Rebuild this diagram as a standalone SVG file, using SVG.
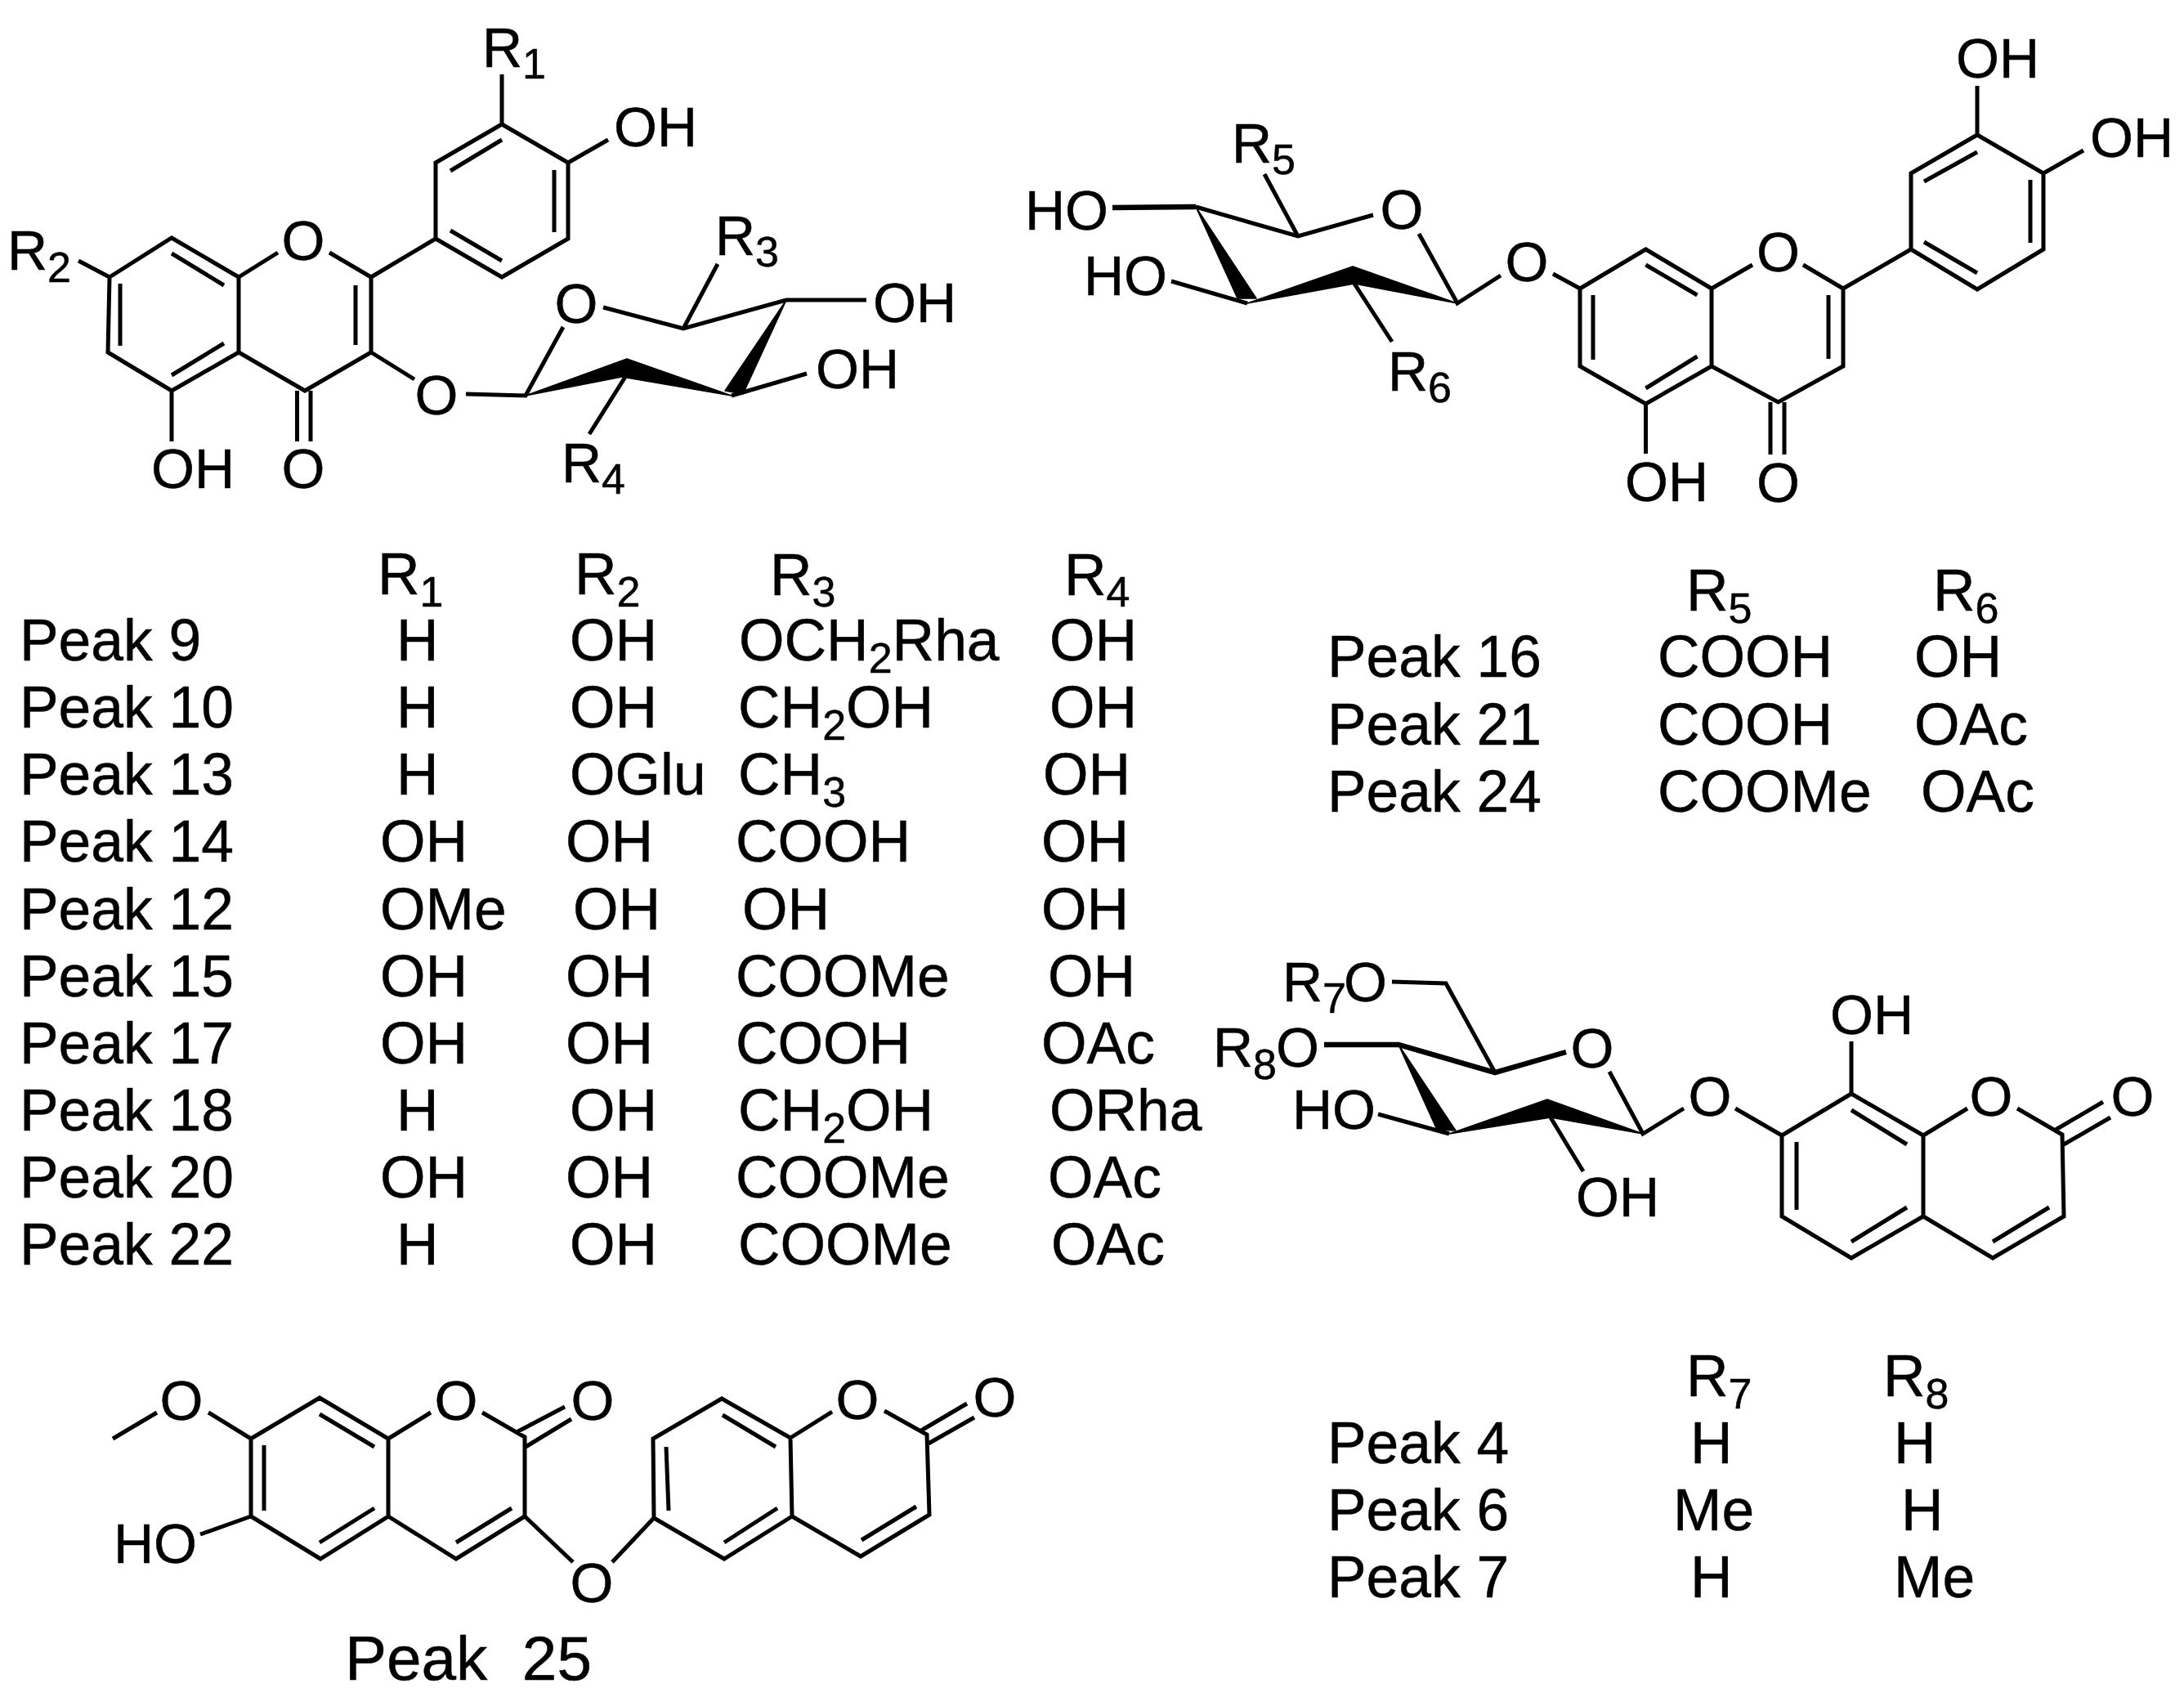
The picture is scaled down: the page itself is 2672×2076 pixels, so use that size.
<svg xmlns="http://www.w3.org/2000/svg" width="2672" height="2076" viewBox="0 0 2672 2076">
<style>
text{font-family:"Liberation Sans",Arial,sans-serif;fill:#000;stroke:#000;stroke-width:.5;font-size:71.400px}
.l{font-size:68px}
.m{text-anchor:middle}
.s{font-size:52px}
.p{font-size:76.500px}
.b{fill:none;stroke:#000;stroke-width:5;stroke-linejoin:miter;stroke-linecap:butt}
.h{fill:none;stroke:#000;stroke-width:6.500}
.w{fill:#000;stroke:#000;stroke-width:1.5;stroke-linejoin:round}
</style>
<rect width="2672" height="2076" fill="#fff"/>
<g id="connectors">
<g id="bonds-flavonol">
<path class="b" d="M134 339L210 291L292 339L292 431L210 478L132 431L134 339M147 347V423M210 310L274 349M274 420L210 459M292 339L340 309M403 309L454 339L454 431L373 478L292 431M435 349V422M363.500 478V540M380 478V540M210 478V540M134 339L96 319M454 339L533 292L533 199L614 152L695 199L695 292L614 339L533 292M551 282L614 319M551 209L614 171M678 208V284M614 152V91M695 199L744 171M454 431L507 464"/>
<path class="b" d="M570 482L643 484L689 400M738 376L836 402L962 367H1060M836 402L878 323M765 461L721 531M895 484L987 457"/>
<path class="w" d="M962 367L909 482L887 478Z"/>
<path class="w" d="M643 484L767 439L895 484L761 461Z"/>
</g>
<g id="bonds-flavone">
<path class="b" d="M1933 353L2013.500 305L2094 353V448L2013.500 494L1933 448V353M1949 361V440M2013.500 324L2076.500 361M2076.500 436L2013.500 475M2094 353L2144 324M2206 324L2255 353V448L2175.500 492L2094 448M2237 361V439M2255 353L2338 305V212L2419 165L2500 212V305L2419 354L2338 305M2354 222L2419 186M2484 220V297M2354 296L2419 334M2419 165V105M2500 212L2549 184M2166 492V556M2183 492V556M2013.500 494V555M1933 353L1900 335M1836 337L1783 371L1736 286"/>
<path class="b" d="M1680 263L1588 289L1463 253M1588 289L1547 213M1657 347L1703 418M1526 371L1433 344"/>
<path class="h" d="M1463 253L1361 254"/>
<path class="w" d="M1463 253L1537 365L1514 365Z"/>
<path class="w" d="M1526 371L1655 326L1783 371L1657 347Z"/>
</g>
<g id="bonds-coumarin-glycoside">
<path class="b" d="M1703 1201L1769 1203L1829 1312M1969 1311L2010 1387L2060 1356M1897 1367L1937 1433M1773 1387L1686 1363M2123 1356L2180 1389L2265 1338L2353 1389V1488L2265 1539L2180 1488V1389M2198 1397V1480M2265 1358L2333 1400M2333 1477L2265 1519M2265 1338V1274M2353 1389L2407 1356M2468 1356L2523 1388L2525 1488L2438 1539L2353 1488M2507 1477L2438 1519M2515 1382L2573 1348M2525 1400L2582 1367"/>
<path class="h" d="M1620 1278H1711L1829 1312L1916 1287"/>
<path class="w" d="M1711 1278L1781 1383L1758 1382Z"/>
<path class="w" d="M1773 1387L1893 1345L2010 1387L1897 1367Z"/>
</g>
<g id="bonds-dicoumarin">
<path class="b" d="M138 1760L192 1728M255 1728L307 1760L391 1710L475 1760V1855L392 1907L307 1855V1760M323 1768V1848M391 1730L458 1770M458 1845L391 1887M307 1855L245 1877M475 1760L527 1728M590 1728L642 1758V1855L558 1907L475 1855M632 1752L691 1721M643 1770L699 1736M626 1845L558 1887M642 1855L701 1911M749 1911L800 1857L799 1760L883 1711L967 1759L969 1855L886 1907L800 1857M815 1770L818 1848M884 1731L949 1770M951 1845L886 1887M967 1759L1018 1727M1082 1726L1134 1755L1137 1853L1053 1904L969 1855M1127 1750L1183 1717M1134 1767L1192 1734M1121 1843L1054 1884"/>
</g>
</g>
<g id="flavonol-labels">
<text class="l" x="590" y="82">R<tspan class="s" dy="14">1</tspan></text>
<text class="l" x="751" y="179">OH</text>
<text class="l" x="9" y="330">R<tspan class="s" dy="15">2</tspan></text>
<text class="l m" x="371" y="318">O</text>
<text class="l m" x="534" y="507">O</text>
<text class="l m" x="705" y="395">O</text>
<text class="l" x="875" y="312">R<tspan class="s" dy="14">3</tspan></text>
<text class="l" x="1068" y="394">OH</text>
<text class="l" x="998" y="475">OH</text>
<text class="l" x="687" y="590">R<tspan class="s" dy="14">4</tspan></text>
<text class="l" x="185" y="597">OH</text>
<text class="l m" x="371" y="597">O</text>
</g>
<g id="flavone-labels">
<text class="l" x="2393" y="95">OH</text>
<text class="l" x="2557" y="192">OH</text>
<text class="l" x="1507" y="199">R<tspan class="s" dy="14">5</tspan></text>
<text class="l m" x="1715" y="280">O</text>
<text class="l" x="1254" y="281">HO</text>
<text class="l" x="1326" y="361">HO</text>
<text class="l m" x="1868" y="344">O</text>
<text class="l m" x="2175.500" y="332">O</text>
<text class="l" x="1698" y="478">R<tspan class="s" dy="14">6</tspan></text>
<text class="l" x="1988" y="613">OH</text>
<text class="l m" x="2175.500" y="614">O</text>
</g>
<g id="coumarin-glycoside-labels">
<text class="l" x="1569" y="1225">R<tspan class="s" dy="14">7</tspan></text>
<text class="l m" x="1670.500" y="1225">O</text>
<text class="l" x="1484" y="1305">R<tspan class="s" dy="15">8</tspan></text>
<text class="l m" x="1587.500" y="1305">O</text>
<text class="l m" x="1948" y="1306">O</text>
<text class="l" x="1581" y="1381">HO</text>
<text class="l" x="1928" y="1488">OH</text>
<text class="l m" x="2092" y="1365">O</text>
<text class="l" x="2239" y="1265">OH</text>
<text class="l m" x="2436" y="1365">O</text>
<text class="l m" x="2609" y="1365">O</text>
</g>
<g id="dicoumarin-labels">
<text class="l m" x="222" y="1737">O</text>
<text class="l" x="139" y="1912">HO</text>
<text class="l m" x="558" y="1737">O</text>
<text class="l m" x="725" y="1737">O</text>
<text class="l m" x="724" y="1960">O</text>
<text class="l m" x="1049" y="1736">O</text>
<text class="l m" x="1217" y="1733">O</text>
<text class="p" x="422" y="2055" xml:space="preserve">Peak  25</text>
</g>
<g id="table-flavonol">
<text x="462" y="727">R<tspan class="s" dy="15">1</tspan></text>
<text x="703" y="727">R<tspan class="s" dy="15">2</tspan></text>
<text x="942" y="728">R<tspan class="s" dy="14">3</tspan></text>
<text x="1302" y="728">R<tspan class="s" dy="14">4</tspan></text>
<g id="row-peak-9"><text x="24" y="808">Peak 9</text><text x="485" y="808">H</text><text x="697" y="808">OH</text><text x="904" y="808">OCH<tspan class="s" dy="15">2</tspan><tspan dy="-15">Rha</tspan></text><text x="1284" y="808">OH</text></g>
<g id="row-peak-10"><text x="24" y="890">Peak 10</text><text x="485" y="890">H</text><text x="697" y="890">OH</text><text x="903" y="890">CH<tspan class="s" dy="15">2</tspan><tspan dy="-15">OH</tspan></text><text x="1284" y="890">OH</text></g>
<g id="row-peak-13"><text x="24" y="972">Peak 13</text><text x="485" y="972">H</text><text x="697" y="972">OGlu</text><text x="903" y="972">CH<tspan class="s" dy="15">3</tspan></text><text x="1276" y="972">OH</text></g>
<g id="row-peak-14"><text x="24" y="1054">Peak 14</text><text x="465" y="1054">OH</text><text x="692" y="1054">OH</text><text x="900" y="1054">COOH</text><text x="1274" y="1054">OH</text></g>
<g id="row-peak-12"><text x="24" y="1137">Peak 12</text><text x="465" y="1137">OMe</text><text x="701" y="1137">OH</text><text x="908" y="1137">OH</text><text x="1274" y="1137">OH</text></g>
<g id="row-peak-15"><text x="24" y="1219">Peak 15</text><text x="465" y="1219">OH</text><text x="692" y="1219">OH</text><text x="900" y="1219">COOMe</text><text x="1282" y="1219">OH</text></g>
<g id="row-peak-17"><text x="24" y="1301">Peak 17</text><text x="465" y="1301">OH</text><text x="692" y="1301">OH</text><text x="900" y="1301">COOH</text><text x="1274" y="1301">OAc</text></g>
<g id="row-peak-18"><text x="24" y="1383">Peak 18</text><text x="485" y="1383">H</text><text x="697" y="1383">OH</text><text x="903" y="1383">CH<tspan class="s" dy="15">2</tspan><tspan dy="-15">OH</tspan></text><text x="1284" y="1383">ORha</text></g>
<g id="row-peak-20"><text x="24" y="1465">Peak 20</text><text x="465" y="1465">OH</text><text x="692" y="1465">OH</text><text x="900" y="1465">COOMe</text><text x="1282" y="1465">OAc</text></g>
<g id="row-peak-22"><text x="24" y="1547">Peak 22</text><text x="485" y="1547">H</text><text x="697" y="1547">OH</text><text x="903" y="1547">COOMe</text><text x="1286" y="1547">OAc</text></g>
</g>
<g id="table-flavone">
<text x="2063" y="747">R<tspan class="s" dy="15">5</tspan></text>
<text x="2365" y="747">R<tspan class="s" dy="15">6</tspan></text>
<g id="row-peak-16"><text x="1624" y="828">Peak 16</text><text x="2028" y="828">COOH</text><text x="2342" y="828">OH</text></g>
<g id="row-peak-21"><text x="1624" y="911">Peak 21</text><text x="2028" y="911">COOH</text><text x="2342" y="911">OAc</text></g>
<g id="row-peak-24"><text x="1624" y="993">Peak 24</text><text x="2028" y="993">COOMe</text><text x="2350" y="993">OAc</text></g>
</g>
<g id="table-coumarin">
<text x="2063" y="1708">R<tspan class="s" dy="15">7</tspan></text>
<text x="2304" y="1708">R<tspan class="s" dy="15">8</tspan></text>
<g id="row-peak-4"><text x="1624" y="1790">Peak 4</text><text x="2068" y="1790">H</text><text x="2317" y="1790">H</text></g>
<g id="row-peak-6"><text x="1624" y="1872">Peak 6</text><text x="2047" y="1872">Me</text><text x="2326" y="1872">H</text></g>
<g id="row-peak-7"><text x="1624" y="1954">Peak 7</text><text x="2068" y="1954">H</text><text x="2317" y="1954">Me</text></g>
</g>
</svg>
